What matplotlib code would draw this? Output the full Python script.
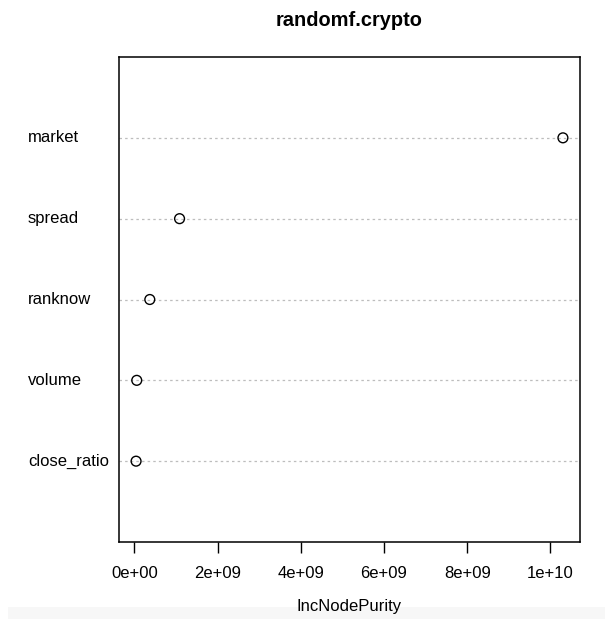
import matplotlib
matplotlib.use("Agg")
import matplotlib.pyplot as plt
from matplotlib.transforms import blended_transform_factory
from matplotlib.patches import Rectangle

plt.rcParams['font.family'] = ['Liberation Sans', 'DejaVu Sans']

# Variable importance (IncNodePurity) from the random forest model
variables = ["market", "spread", "ranknow", "volume", "close_ratio"]
importance = [10.30e9, 1.085e9, 0.37e9, 0.056e9, 0.04e9]
xticks = [0, 2e9, 4e9, 6e9, 8e9, 1e10]
xtick_labels = ["0e+00", "2e+09", "4e+09", "6e+09", "8e+09", "1e+10"]

W, H = 605, 619
fig = plt.figure(figsize=(W / 100, H / 100), dpi=100)
fig.patch.set_facecolor("white")

# plot region in pixel coordinates
left, right, top, bottom = 119, 580, 57, 542
ax = fig.add_axes([left / W, 1 - bottom / H, (right - left) / W, (bottom - top) / H])

n = len(variables)
ypos = list(range(n, 0, -1))  # first variable at top

lo, hi = min(importance), max(importance)
pad = 0.04 * (hi - lo)
ax.set_xlim(lo - pad, hi + pad)
ax.set_ylim(0, n + 1)

for y in ypos:
    ax.axhline(y, color="#bdbdbd", lw=0.9, ls=(0, (2, 2.5)), zorder=1)

ax.scatter(importance, ypos, s=50, facecolors="none", edgecolors="black",
           linewidths=1.0, zorder=3)

ax.set_yticks([])
ax.set_xticks(xticks)
ax.set_xticklabels(xtick_labels, fontsize=12)
ax.tick_params(axis="x", length=8, width=1, pad=9, colors="black")
for s in ax.spines.values():
    s.set_linewidth(1.1)

trans = blended_transform_factory(fig.transFigure, ax.transData)
for name, y in zip(variables, ypos):
    ax.text(28 / W, y, name, transform=trans, ha="left", va="center",
            fontsize=12, clip_on=False)

fig.text(((left + right) / 2) / W, 1 - 20 / H, "randomf.crypto", ha="center",
         va="center", fontsize=14.4, fontweight="bold")

# light band along the bottom edge
fig.patches.append(Rectangle((8 / W, 0), 1 - 8 / W, 12 / H, transform=fig.transFigure,
                             facecolor="#f7f7f7", edgecolor="none", zorder=0))
fig.text(((left + right) / 2) / W, 1 - 607 / H, "IncNodePurity", ha="center",
         va="center", fontsize=12)

fig.savefig("out.png", dpi=100)
